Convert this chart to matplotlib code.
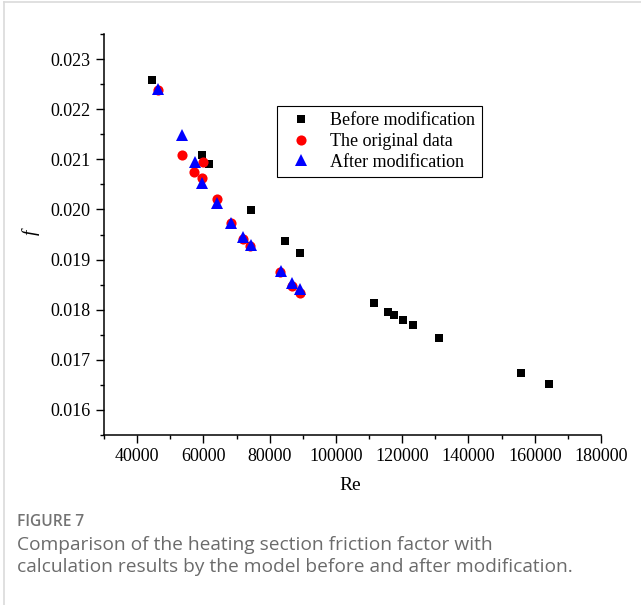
import numpy as np
import matplotlib.pyplot as plt
from matplotlib.lines import Line2D
from matplotlib.ticker import MultipleLocator

# friction factor vs Reynolds number, heating section
re_before = [44550, 59500, 61600, 74280, 84720, 89040, 111420, 115840,
             117560, 120360, 123170, 131200, 156000, 164250]
f_before = [0.02259, 0.02109, 0.02091, 0.01999, 0.01937, 0.01913, 0.01813,
            0.01796, 0.01789, 0.01780, 0.01770, 0.01743, 0.01673, 0.01652]

re_orig = [46170, 53590, 59820, 57310, 59520, 64040, 68250, 71960, 74180,
           83100, 86720, 89040]
f_orig = [0.02239, 0.02109, 0.02095, 0.02075, 0.02062, 0.02021, 0.01973,
          0.01941, 0.01927, 0.01875, 0.01847, 0.01833]

re_after = [46170, 53590, 57410, 59610, 64130, 68340, 72080, 74280, 83310,
            86720, 89040]
f_after = [0.02240, 0.02149, 0.02095, 0.02052, 0.02013, 0.01973, 0.01945,
           0.01930, 0.01877, 0.01853, 0.01841]

xticks = [40000, 60000, 80000, 100000, 120000, 140000, 160000, 180000]
yticks = [0.016, 0.017, 0.018, 0.019, 0.020, 0.021, 0.022, 0.023]

serif = ['Liberation Serif', 'DejaVu Serif']

fig = plt.figure(figsize=(6.41, 6.05), dpi=100)
ax = fig.add_axes([104/641, 1-435/605, 497/641, 401/605])

ax.plot(re_before, f_before, 's', color='black', ms=6, mew=0,
        label='Before modification')
ax.plot(re_orig, f_orig, 'o', color='red', ms=7.3, mew=0,
        label='The original data')
ax.plot(re_after, f_after, '^', color='blue', ms=8, mew=0,
        label='After modification')

ax.set_xlim(30000, 180000)
ax.set_ylim(0.0155, 0.0235)
ax.set_xticks(xticks)
ax.set_yticks(yticks)
ax.set_xticklabels([str(v) for v in xticks], family=serif, fontsize=13)
ax.set_yticklabels(['%.3f' % v for v in yticks], family=serif, fontsize=13)
ax.xaxis.set_minor_locator(MultipleLocator(10000))
ax.yaxis.set_minor_locator(MultipleLocator(0.0005))
ax.tick_params(which='major', direction='out', length=5.5, width=1.0, pad=4)
ax.tick_params(which='minor', direction='out', length=3, width=1.0)

for side in ('top', 'right'):
    ax.spines[side].set_visible(False)
for side in ('left', 'bottom'):
    ax.spines[side].set_linewidth(1.1)

# axis titles placed directly in figure space
fig.text(350/641, 1-485/605, 'Re', family=serif, fontsize=14,
         ha='center', va='center')
fig.text(31/641, 1-232/605, 'f', family=serif, fontsize=14, style='italic',
         rotation=90, ha='center', va='center')

leg = fig.legend(loc='upper left', bbox_to_anchor=(277/641, 1-106/605),
                 prop={'family': serif, 'size': 13}, frameon=True,
                 fancybox=False, edgecolor='black', framealpha=1,
                 borderpad=0.35, labelspacing=0.2, handletextpad=0.6,
                 borderaxespad=0)
leg.get_frame().set_linewidth(0.8)

# caption block under the plot
fig.text(17/641, 1-522/605, 'FIGURE 7', family='Open Sans',
         fontweight='semibold', fontsize=11.2, color='#737373', va='center')
fig.text(17/641, 1-545/605,
         'Comparison of the heating section friction factor with',
         family='Open Sans', fontsize=13.8, color='#6b6b6b', va='center')
fig.text(17/641, 1-567/605,
         'calculation results by the model before and after modification.',
         family='Open Sans', fontsize=13.8, color='#6b6b6b', va='center')

# light card border
fig.add_artist(Line2D([4/641, 4/641], [0, 1-2/605], transform=fig.transFigure,
                      color='#dadada', lw=1.2))
fig.add_artist(Line2D([4/641, 1], [1-2/605, 1-2/605], transform=fig.transFigure,
                      color='#dadada', lw=1.2))

fig.savefig('out.png', dpi=100)
